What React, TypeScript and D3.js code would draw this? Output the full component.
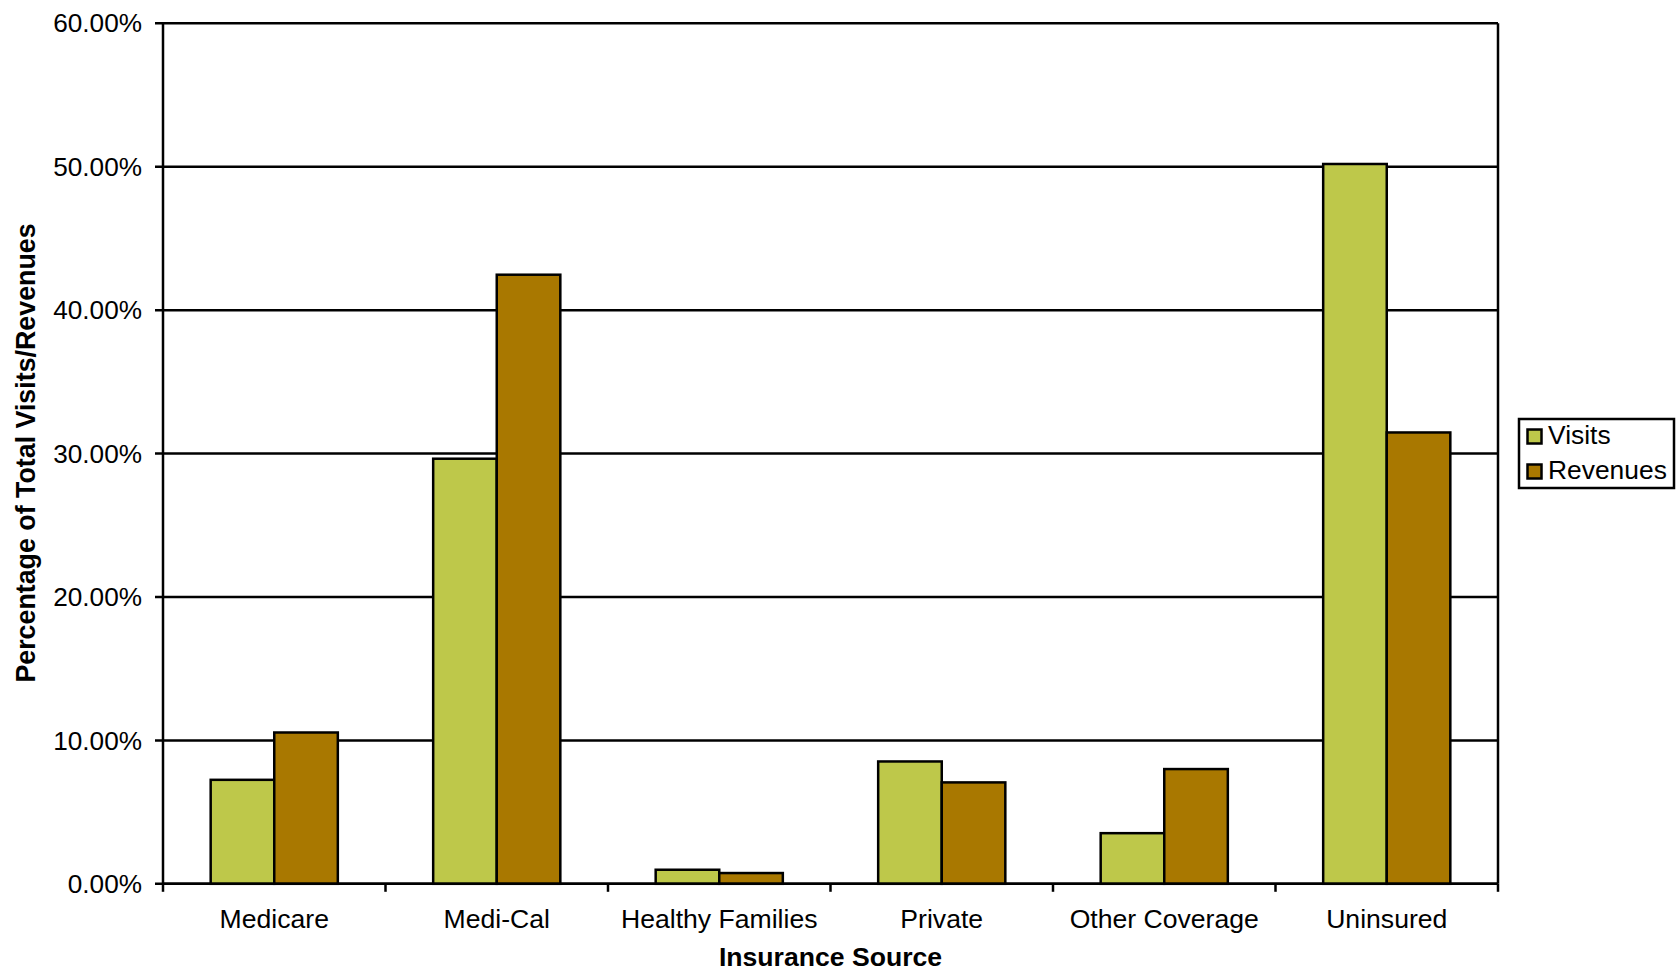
import React from "react";
import * as d3 from "d3";

const categories = ["Medicare", "Medi-Cal", "Healthy Families", "Private", "Other Coverage", "Uninsured"];
const seriesNames = ["Visits", "Revenues"];
const visits = [7.25, 29.64, 0.98, 8.53, 3.53, 50.19];
const revenues = [10.55, 42.47, 0.75, 7.07, 8.0, 31.47];
const yTicks = [0, 10, 20, 30, 40, 50, 60];
const colors = ["#BEC84A", "#A97800"];

const W = 1676;
const H = 974;
const left = 163;
const right = 1498;
const top = 23.3;
const bottom = 883.8;
const FONT = "'Liberation Sans', Arial, sans-serif";

export default function App() {
  const x0 = d3.scaleBand<string>().domain(categories).range([left, right]).padding(0);
  const y = d3.scaleLinear().domain([0, 60]).range([bottom, top]);
  const barW = x0.bandwidth() / 3.5;
  const x1 = d3.scaleBand<string>().domain(seriesNames).range([-barW, barW]).padding(0);
  const series = [visits, revenues];
  const fmt = (v: number) => d3.format(".2f")(v) + "%";
  const boundaries = categories.map((c) => x0(c) as number).concat([right]);

  return (
    <svg width={W} height={H} style={{ position: "absolute", left: 0, top: 0, background: "#fff" }} fontFamily={FONT}>
      {/* gridlines */}
      {yTicks.map((t) => (
        <line key={"g" + t} x1={left - 8} x2={right} y1={y(t)} y2={y(t)} stroke="#000" strokeWidth={2.5} />
      ))}
      {/* bars */}
      {categories.map((c, i) => {
        const cx = (x0(c) as number) + x0.bandwidth() / 2;
        return seriesNames.map((s, k) => (
          <rect
            key={c + s}
            x={cx + (x1(s) as number)}
            y={y(series[k][i])}
            width={x1.bandwidth()}
            height={bottom - y(series[k][i])}
            fill={colors[k]}
            stroke="#000"
            strokeWidth={2.5}
          />
        ));
      })}
      {/* frame */}
      <line x1={left} x2={left} y1={top} y2={bottom} stroke="#000" strokeWidth={2.5} />
      <line x1={right} x2={right} y1={top} y2={bottom} stroke="#000" strokeWidth={2.5} />
      <line x1={left} x2={right} y1={bottom} y2={bottom} stroke="#000" strokeWidth={2.5} />
      {/* x ticks */}
      {boundaries.map((b, i) => (
        <line key={"xt" + i} x1={b} x2={b} y1={bottom} y2={bottom + 8} stroke="#000" strokeWidth={2.5} />
      ))}
      {/* y tick labels */}
      {yTicks.map((t) => (
        <text key={"yl" + t} x={142} y={y(t)} dy="0.35em" textAnchor="end" fontSize={26.2} fill="#000">
          {fmt(t)}
        </text>
      ))}
      {/* category labels */}
      {categories.map((c) => (
        <text key={"cl" + c} x={(x0(c) as number) + x0.bandwidth() / 2} y={928} textAnchor="middle" fontSize={26.6} fill="#000">
          {c}
        </text>
      ))}
      {/* axis titles */}
      <text x={(left + right) / 2} y={966} textAnchor="middle" fontSize={26.6} fontWeight="bold" fill="#000">
        Insurance Source
      </text>
      <text transform={`translate(35, 453) rotate(-90)`} textAnchor="middle" fontSize={26.8} fontWeight="bold" fill="#000">
        Percentage of Total Visits/Revenues
      </text>
      {/* legend */}
      <rect x={1519} y={419} width={155} height={69} fill="#fff" stroke="#000" strokeWidth={2.5} />
      {seriesNames.map((s, k) => (
        <g key={"lg" + s}>
          <rect x={1527.5} y={429.5 + k * 35} width={14} height={14} fill={colors[k]} stroke="#000" strokeWidth={2.5} />
          <text x={1548} y={443.5 + k * 35} fontSize={26.4} fill="#000">
            {s}
          </text>
        </g>
      ))}
    </svg>
  );
}
